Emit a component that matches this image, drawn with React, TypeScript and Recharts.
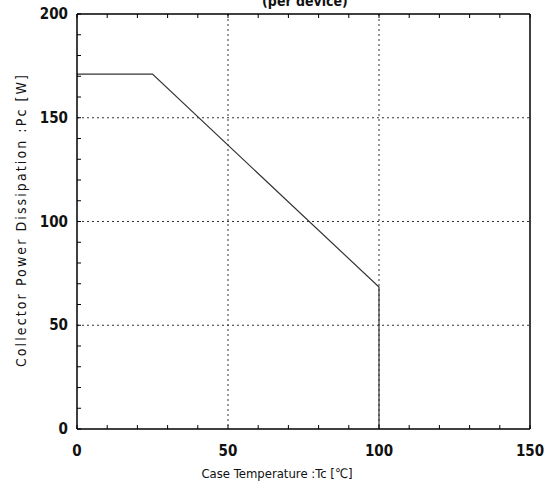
import { LineChart, Line, XAxis, YAxis, CartesianGrid, Customized } from 'recharts';

// derating curve: Pc vs Tc
const caseTemp = [0, 25, 100, 100];
const collectorPower = [171, 171, 68.4, 0];

const xTicks = [0, 10, 20, 30, 40, 50, 60, 70, 80, 90, 100, 110, 120, 130, 140, 150];
const yTicks = [0, 10, 20, 30, 40, 50, 60, 70, 80, 90, 100, 110, 120, 130, 140, 150, 160, 170, 180, 190, 200];
const xGrid = [50, 100];
const yGrid = [50, 100, 150];

const data = caseTemp.map((t, i) => ({ tc: t, pc: collectorPower[i] }));

const FONT = '"DejaVu Sans Condensed", "Liberation Sans Narrow", "DejaVu Sans", sans-serif';
const TICK_LEN = 4;

// draws the inward tick and (for major values on bottom/left) the label
function FrameTick(props: any) {
  const { x, y, payload, side } = props;
  const v = payload.value;
  const label = v % 50 === 0 ? String(v) : '';
  if (side === 'bottom') {
    return (
      <g>
        <line x1={x} y1={y} x2={x} y2={y - TICK_LEN} stroke="#000" />
        <text x={x} y={y + 27} textAnchor="middle" fontFamily={FONT} fontSize={15} fontWeight={700} fill="#111">
          {label}
        </text>
      </g>
    );
  }
  if (side === 'left') {
    return (
      <g>
        <line x1={x} y1={y} x2={x + TICK_LEN} y2={y} stroke="#000" />
        <text x={x - 9} y={y + 5} textAnchor="end" fontFamily={FONT} fontSize={15} fontWeight={700} fill="#111">
          {label}
        </text>
      </g>
    );
  }
  if (side === 'top') {
    return <line x1={x} y1={y} x2={x} y2={y + TICK_LEN} stroke="#000" />;
  }
  return <line x1={x} y1={y} x2={x - TICK_LEN} y2={y} stroke="#000" />;
}

function Texts() {
  return (
    <g fontFamily={FONT} fill="#111">
      <text x={305} y={6} textAnchor="middle" fontSize={14} fontWeight={700}>(per device)</text>
      <text x={277} y={478} textAnchor="middle" fontSize={13}>
        Case Temperature :Tc [℃]
      </text>
      <text
        x={26}
        y={220}
        textAnchor="middle"
        fontSize={14}
        letterSpacing={2.1}
        transform="rotate(-90 26 220)"
      >
        Collector Power Dissipation :Pc [W]
      </text>
    </g>
  );
}

export default function App() {
  return (
    <div style={{ position: 'absolute', left: 0, top: 0, background: '#fff' }}>
      <LineChart width={555} height={484} data={data} margin={{ top: 13, right: 24, bottom: 0, left: 0 }}>
        <CartesianGrid
          horizontalValues={yGrid}
          verticalValues={xGrid}
          stroke="#333"
          strokeDasharray="2 3"
        />
        <XAxis
          dataKey="tc"
          type="number"
          domain={[0, 150]}
          ticks={xTicks}
          interval={0}
          height={55}
          tickSize={0}
          tickMargin={0}
          tickLine={false}
          tick={<FrameTick side="bottom" />}
          stroke="#000"
          strokeWidth={1.5}
        />
        <XAxis
          xAxisId="top"
          orientation="top"
          dataKey="tc"
          type="number"
          domain={[0, 150]}
          ticks={xTicks}
          interval={0}
          height={1}
          tickSize={0}
          tickMargin={0}
          tickLine={false}
          tick={<FrameTick side="top" />}
          stroke="#000"
          strokeWidth={1.5}
        />
        <YAxis
          type="number"
          domain={[0, 200]}
          ticks={yTicks}
          interval={0}
          width={77}
          tickSize={0}
          tickMargin={0}
          tickLine={false}
          tick={<FrameTick side="left" />}
          stroke="#000"
          strokeWidth={1.5}
        />
        <YAxis
          yAxisId="right"
          orientation="right"
          type="number"
          domain={[0, 200]}
          ticks={yTicks}
          interval={0}
          width={1}
          tickSize={0}
          tickMargin={0}
          tickLine={false}
          tick={<FrameTick side="right" />}
          stroke="#000"
          strokeWidth={1.5}
        />
        <Line
          dataKey="pc"
          type="linear"
          stroke="#333"
          strokeWidth={1.2}
          dot={false}
          isAnimationActive={false}
        />
        <Customized component={Texts} />
      </LineChart>
    </div>
  );
}
